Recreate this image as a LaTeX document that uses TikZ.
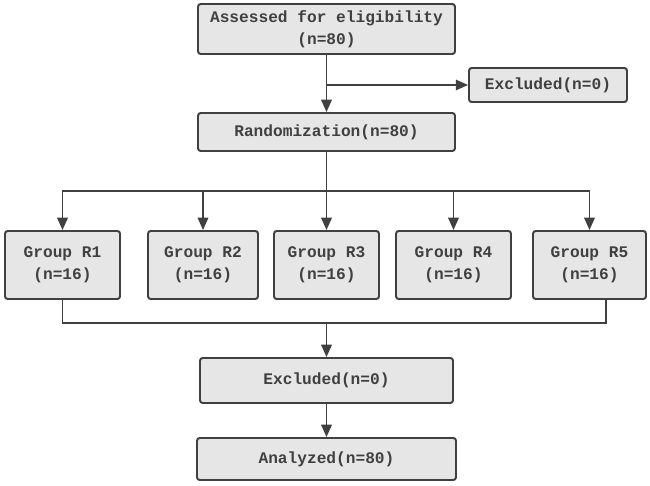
\documentclass[tikz,border=0pt]{standalone}
\usepackage{fontspec}
\setmonofont{Liberation Mono}
\usepackage{tikz}
\usetikzlibrary{arrows.meta}

\definecolor{boxfill}{HTML}{E6E6E6}
\definecolor{boxline}{HTML}{404040}

\tikzset{
	box/.style={shape=rectangle,rounded corners=1.5pt,draw=boxline,fill=boxfill,
		line width=1.1pt,inner sep=0pt,align=center,text=boxline,
		font=\ttfamily\bfseries\fontsize{9.2}{12.5}\selectfont},
	arr/.style={draw=boxline,line width=0.9pt,-{Triangle[length=7pt,width=6pt]}},
	ln/.style={draw=boxline,line width=0.9pt}
}

\begin{document}
\begin{tikzpicture}[x=0.02cm,y=-0.02cm]
	\useasboundingbox (0,0) rectangle (650,486);
	
	\node[box,minimum width=5.14cm,minimum height=1.0cm]  (assess) at (326.5, 29)  {Assessed for eligibility\\(n=80)};
	\node[box,minimum width=3.16cm,minimum height=0.68cm] (excla)  at (548, 85)    {Excluded(n=0)};
	\node[box,minimum width=5.14cm,minimum height=0.76cm] (rand)   at (326.5, 132) {Randomization(n=80)};
	\node[box,minimum width=2.30cm,minimum height=1.36cm] (r1)     at (62.5, 265)  {Group R1\\(n=16)};
	\node[box,minimum width=2.20cm,minimum height=1.36cm] (r2)     at (203, 265)   {Group R2\\(n=16)};
	\node[box,minimum width=2.10cm,minimum height=1.36cm] (r3)     at (326.5, 265) {Group R3\\(n=16)};
	\node[box,minimum width=2.30cm,minimum height=1.36cm] (r4)     at (453.5, 265) {Group R4\\(n=16)};
	\node[box,minimum width=2.26cm,minimum height=1.36cm] (r5)     at (589.5, 265) {Group R5\\(n=16)};
	\node[box,minimum width=5.06cm,minimum height=0.90cm] (exclb)  at (326.5, 380.5) {Excluded(n=0)};
	\node[box,minimum width=5.18cm,minimum height=0.84cm] (anal)   at (326.5, 459) {Analyzed(n=80)};
	
	\coordinate (fork)  at (326.5, 85);
	\coordinate (split) at (326.5, 191);
	\coordinate (merge) at (326.5, 323);
	
	\draw[arr] (assess) -- (rand);
	\draw[arr] (fork) -- (excla);
	
	\draw[ln]  (rand) -- (split);
	\draw[arr] (split) -| (r1);
	\draw[arr] (split) -| (r2);
	\draw[arr] (split) -- (r3);
	\draw[arr] (split) -| (r4);
	\draw[arr] (split) -| (r5);
	
	\draw[ln] (r1.south) |- (merge);
	\draw[ln] ([xshift=0.33cm]r5.south) |- (merge);
	\draw[arr] (merge) -- (exclb);
	\draw[arr] (exclb) -- (anal);
	
\end{tikzpicture}
\end{document}
